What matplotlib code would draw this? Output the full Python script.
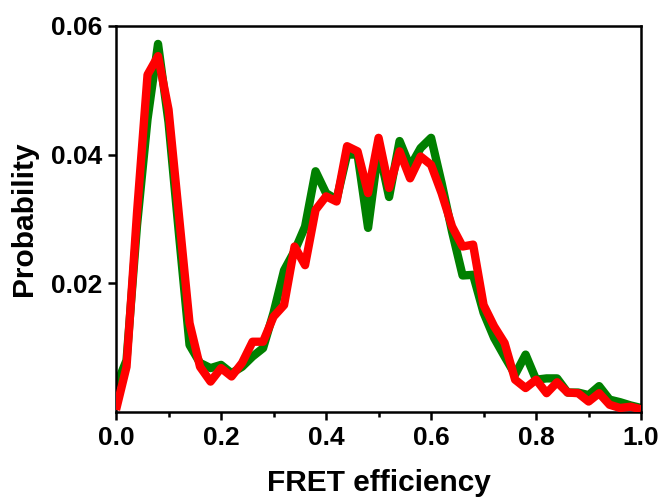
import matplotlib
matplotlib.use("Agg")
import matplotlib.pyplot as plt
from matplotlib.ticker import MultipleLocator

plt.rcParams['font.family'] = ['Liberation Sans', 'DejaVu Sans']

fret = [0.00, 0.02, 0.04, 0.06, 0.08, 0.10, 0.12, 0.14, 0.16, 0.18,
        0.20, 0.22, 0.24, 0.26, 0.28, 0.30, 0.32, 0.34, 0.36, 0.38,
        0.40, 0.42, 0.44, 0.46, 0.48, 0.50, 0.52, 0.54, 0.56, 0.58,
        0.60, 0.62, 0.64, 0.66, 0.68, 0.70, 0.72, 0.74, 0.76, 0.78,
        0.80, 0.82, 0.84, 0.86, 0.88, 0.90, 0.92, 0.94, 0.96, 0.98, 1.00]

green_prob = [0.0040, 0.0080, 0.0290, 0.0455, 0.0572, 0.0450, 0.0275, 0.0104, 0.0076, 0.0068,
              0.0073, 0.0060, 0.0070, 0.0086, 0.0099, 0.0154, 0.0220, 0.0250, 0.0288, 0.0374,
              0.0340, 0.0330, 0.0400, 0.0400, 0.0286, 0.0410, 0.0334, 0.0421, 0.0381, 0.0410,
              0.0426, 0.0356, 0.0280, 0.0212, 0.0213, 0.0154, 0.0115, 0.0086, 0.0058, 0.0089,
              0.0050, 0.0052, 0.0052, 0.0030, 0.0030, 0.0026, 0.0040, 0.0019, 0.0015, 0.0010, 0.0006]

red_prob = [0.0003, 0.0070, 0.0310, 0.0524, 0.0553, 0.0470, 0.0304, 0.0138, 0.0070, 0.0047,
            0.0068, 0.0055, 0.0076, 0.0109, 0.0109, 0.0148, 0.0166, 0.0257, 0.0228, 0.0314,
            0.0335, 0.0327, 0.0413, 0.0405, 0.0340, 0.0426, 0.0348, 0.0405, 0.0363, 0.0397,
            0.0384, 0.0340, 0.0288, 0.0257, 0.0260, 0.0166, 0.0133, 0.0107, 0.0050, 0.0037,
            0.0050, 0.0029, 0.0046, 0.0030, 0.0029, 0.0016, 0.0029, 0.0011, 0.0006, 0.0008, 0.0004]

x_ticks = [0.0, 0.2, 0.4, 0.6, 0.8, 1.0]
x_tick_labels = ["0.0", "0.2", "0.4", "0.6", "0.8", "1.0"]
y_ticks = [0.02, 0.04, 0.06]
y_tick_labels = ["0.02", "0.04", "0.06"]

fig = plt.figure(figsize=(6.63, 4.98), dpi=100)
ax = fig.add_axes([0.175, 0.173, 0.792, 0.775])

ax.plot(fret, green_prob, color='#008000', linewidth=6, solid_joinstyle='round',
        solid_capstyle='butt', zorder=2)
ax.plot(fret, red_prob, color='#ff0000', linewidth=6, solid_joinstyle='round',
        solid_capstyle='butt', zorder=3)

ax.set_xlim(0, 1.0)
ax.set_ylim(0, 0.06)
ax.set_xticks(x_ticks)
ax.set_xticklabels(x_tick_labels)
ax.set_yticks(y_ticks)
ax.set_yticklabels(y_tick_labels)
ax.xaxis.set_minor_locator(MultipleLocator(0.1))

for s in ax.spines.values():
    s.set_linewidth(1.8)
    s.set_color('black')

ax.tick_params(axis='both', which='major', direction='out', length=6, width=1.8,
               labelsize=19, pad=4)
ax.tick_params(axis='x', which='minor', direction='out', length=3.5, width=1.8)
for lab in ax.get_xticklabels() + ax.get_yticklabels():
    lab.set_fontweight('bold')

ax.set_xlabel("FRET efficiency", fontsize=21.5, fontweight='bold', labelpad=14)
ax.set_ylabel("Probability", fontsize=21.5, fontweight='bold', labelpad=9)

fig.savefig("out.png", dpi=100)
